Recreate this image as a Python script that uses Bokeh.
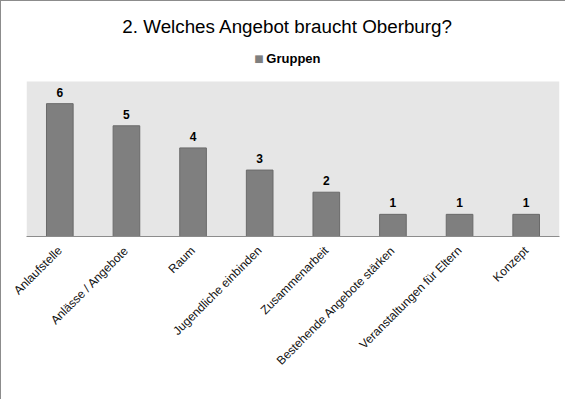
import math
from bokeh.plotting import figure
from bokeh.models import ColumnDataSource, Label, Range1d, FactorRange, BoxAnnotation
from bokeh.core.properties import value
from bokeh.embed import file_html
from bokeh.resources import INLINE

categories = ["Anlaufstelle", "Anlässe / Angebote", "Raum", "Jugendliche einbinden",
              "Zusammenarbeit", "Bestehende Angebote stärken",
              "Veranstaltungen für Eltern", "Konzept"]
counts = [6, 5, 4, 3, 2, 1, 1, 1]
labels = [str(v) for v in counts]
series_name = "Gruppen"
title_text = "2. Welches Angebot braucht Oberburg?"

W, H = 565, 399
FL, FR, FB = 25, 7, 164
YMAX = 7                      # top of the grey plot area
FRAME_H = H - FB              # frame reaches the top of the canvas
PLOT_H = 155                  # grey plot area height in px
ytop = YMAX * FRAME_H / PLOT_H
upx = YMAX / PLOT_H           # data units per pixel

src = ColumnDataSource(dict(cat=categories, val=counts, lab=labels))

p = figure(x_range=FactorRange(*categories, range_padding=0), y_range=Range1d(0, ytop),
           width=W, height=H, output_backend="svg", toolbar_location=None,
           min_border_left=FL, min_border_right=FR, min_border_top=0, min_border_bottom=FB)
p.background_fill_color = "white"
p.border_fill_color = "white"
p.outline_line_color = None
p.grid.visible = False

p.add_layout(BoxAnnotation(left=0, right=len(categories), bottom=0, top=YMAX,
                           fill_color="#e6e6e6", fill_alpha=1, line_color=None,
                           level="underlay"))

p.vbar(x="cat", top="val", width=0.4, source=src, fill_color="#7f7f7f",
       line_color="#6a6a6a", line_width=1)
p.text(x="cat", y="val", text="lab", source=src, text_align="center",
       text_baseline="bottom", y_offset=-7, text_font=value("Liberation Sans"),
       text_font_size="12px", text_font_style="bold", text_color="black")

p.yaxis.visible = False
p.xaxis.axis_line_color = "#8c8c8c"
p.xaxis.axis_line_width = 1
p.xaxis.major_tick_line_color = None
p.xaxis.minor_tick_line_color = None
p.xaxis.major_label_orientation = math.pi / 4
p.xaxis.major_label_text_font = "Liberation Sans"
p.xaxis.major_label_text_font_size = "12px"
p.xaxis.major_label_text_color = "#111111"
p.xaxis.major_label_standoff = 6

p.add_layout(Label(x=3.92, y=(FRAME_H - 25) * upx,
                   text=title_text, text_align="center", text_baseline="middle",
                   text_font="Liberation Sans", text_font_size="18.8px", text_color="black"))
p.add_layout(Label(x=3.49, y=(FRAME_H - 57) * upx,
                   text="\u25A0", text_align="center", text_baseline="middle",
                   text_font="DejaVu Sans", text_font_size="10px", text_color="#7f7f7f"))
p.add_layout(Label(x=3.60, y=(FRAME_H - 57) * upx,
                   text=series_name, text_align="left", text_baseline="middle",
                   text_font="Liberation Sans", text_font_size="13px",
                   text_font_style="bold", text_color="black"))
p.styles = {"border-left": "1px solid #8c8c8c", "border-top": "1px solid #8c8c8c",
            "box-sizing": "border-box"}

open("out.html", "w").write(file_html(p, INLINE))
